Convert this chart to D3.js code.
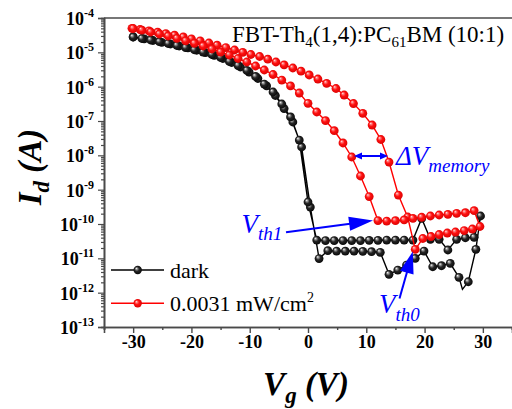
<!DOCTYPE html>
<html><head><meta charset="utf-8">
<script src="https://cdn.jsdelivr.net/npm/d3@7"></script>
<style>body{margin:0;background:#fff}svg{display:block}</style>
</head><body>
<svg id="c" width="512" height="409"></svg>
<script>
// ---- data (Vg in V, Id in A) ----
const darkFwdV = [-30,-28.1,-26.6,-25.1,-23.6,-22.1,-20.6,-19.1,-17.6,-16.1,-14.6,-13.1,-11.6,-10.1,-8.6,-7.1,-5.6,-4.1,-2.6,-1.1,0.4,1.9,3.4,4.9,6.4,7.9,9.4,10.9,12.4,13.9,15.4,16.9,18.4,19.9,21.4,22.9,24.4,25.9,26.5,27.5,28.8,29.6];
const darkFwdI = [2.80e-5,2.45e-5,2.21e-5,1.96e-5,1.75e-5,1.53e-5,1.34e-5,1.15e-5,9.75e-6,8.19e-6,6.61e-6,5.06e-6,3.74e-6,2.67e-6,1.73e-6,1.05e-6,5.53e-7,2.31e-7,9.35e-8,1.75e-8,3.12e-10,9.87e-12,1.67e-11,1.63e-11,1.63e-11,1.63e-11,1.60e-11,1.56e-11,1.50e-11,3.42e-12,4.56e-12,6.38e-12,1.00e-11,1.63e-11,5.69e-12,6.09e-12,7.16e-12,2.80e-12,1.25e-12,2.08e-12,1.83e-11,1.71e-10];
const darkLineOnlyV = [26.5];
const darkRevV = [28.5,27,25.5,24,22.5,21,19.5,18,16.5,15,13.5,12,10.5,9,7.5,6,4.5,3,1.5,0,-1.5,-3,-4.5,-6,-7.5,-9,-10.5,-12,-13.5,-15,-16.5,-18,-19.5,-21,-22.5,-24,-25.5,-27,-28.5,-30];
const darkRevI = [4.09e-11,3.98e-11,3.58e-11,1.75e-11,3.58e-11,3.58e-11,1.45e-10,3.41e-11,3.41e-11,3.41e-11,3.41e-11,3.35e-11,3.35e-11,3.30e-11,3.30e-11,3.30e-11,3.30e-11,3.30e-11,3.41e-11,4.37e-10,2.79e-8,1.31e-7,3.13e-7,6.99e-7,1.19e-6,1.98e-6,2.96e-6,4.13e-6,5.41e-6,7.07e-6,8.65e-6,1.02e-5,1.19e-5,1.38e-5,1.58e-5,1.81e-5,2.04e-5,2.29e-5,2.53e-5,2.80e-5];

const lightFwdV = [-30.2,-28.8,-27.3,-25.8,-24.4,-22.9,-21.4,-20.0,-18.5,-17.0,-15.6,-14.1,-12.6,-11.2,-9.8,-8.3,-6.9,-5.5,-4.1,-2.6,-1.2,0.2,1.7,3.2,4.8,6.2,7.8,9.4,11.0,12.5,13.9,15.5,17.1,18.4,19.7,21.1,22.5,23.9,25.3,26.8,28.2,29.5];
const lightFwdI = [5.01e-5,4.62e-5,4.24e-5,3.86e-5,3.51e-5,3.15e-5,2.81e-5,2.48e-5,2.17e-5,1.87e-5,1.61e-5,1.38e-5,1.17e-5,1.00e-5,8.65e-6,7.56e-6,6.31e-6,5.23e-6,4.33e-6,3.50e-6,2.82e-6,2.19e-6,1.67e-6,1.25e-6,8.84e-7,5.71e-7,3.23e-7,1.67e-7,7.64e-8,2.89e-8,6.38e-9,6.98e-10,1.60e-10,1.83e-11,3.78e-11,4.32e-11,4.94e-11,5.46e-11,5.84e-11,6.45e-11,7.14e-11,8.45e-11];
const lightRevV = [28.5,27,25.5,24,22.5,21,19.5,18,16.5,15,13.5,12,10.5,9,7.5,6,4.5,3,1.5,0,-1.5,-3,-4.5,-6,-7.5,-9,-10.5,-12,-13.5,-15,-16.5,-18,-19.5,-21,-22.5,-24,-25.5,-27,-28.5,-30];
const lightRevI = [2.44e-10,2.13e-10,2.05e-10,1.91e-10,1.83e-10,1.71e-10,1.57e-10,1.46e-10,1.31e-10,1.25e-10,1.22e-10,1.26e-10,6.31e-10,2.50e-9,8.94e-9,2.29e-8,5.21e-8,1.03e-7,1.83e-7,3.27e-7,6.53e-7,1.05e-6,1.56e-6,2.26e-6,3.06e-6,4.00e-6,5.23e-6,6.61e-6,8.36e-6,1.02e-5,1.25e-5,1.53e-5,1.83e-5,2.17e-5,2.56e-5,2.99e-5,3.42e-5,3.91e-5,4.41e-5,4.94e-5];

const xTicks = [-30,-20,-10,0,10,20,30];
const xMinorTicks = [-35,-25,-15,-5,5,15,25,35];
const yExponents = [-4,-5,-6,-7,-8,-9,-10,-11,-12,-13];
const seriesNames = ["dark","0.0031 mW/cm"];
const titleParts = ["FBT-Th","4","(1,4):PC","61","BM (10:1)"];

// ---- chart ----
const svg = d3.select("#c");
const serif = "'Liberation Serif','Times New Roman',serif";
const x = d3.scaleLinear().domain([-35,35]).range([104,512]);
const y = d3.scaleLog().domain([1e-13,1e-4]).range([327,18]);
const axisColor = "#4a4a4a";

const defs = svg.append("defs");
function grad(id, stops){
  const g = defs.append("radialGradient").attr("id",id)
    .attr("cx","0.5").attr("cy","0.5").attr("r","0.6").attr("fx","0.33").attr("fy","0.3");
  stops.forEach(s=>g.append("stop").attr("offset",s[0]).attr("stop-color",s[1]));
}
grad("gk",[[0,"#ffffff"],[0.18,"#9a9a9a"],[0.45,"#262626"],[1,"#000000"]]);
grad("gr",[[0,"#ffe8e8"],[0.18,"#ff7a7a"],[0.45,"#ff1010"],[1,"#d00000"]]);

// axes
const gx = svg.append("g").attr("transform","translate(0,327)");
gx.call(d3.axisBottom(x).tickValues(xTicks).tickSize(6).tickPadding(2).tickFormat(d=>String(d)));
gx.append("g").call(d3.axisBottom(x).tickValues(xMinorTicks).tickSize(3).tickFormat(""));
gx.selectAll("path.domain").attr("stroke",axisColor).attr("stroke-width",1.6);
gx.selectAll("line").attr("stroke",axisColor).attr("stroke-width",1.4);
gx.selectAll("text").attr("font-family",serif).attr("font-weight","bold").attr("font-size",18).attr("fill","#000");

const minorY = [];
for (let e=-13;e<-4;e++) for (let m=2;m<=9;m++) minorY.push(m*Math.pow(10,e));
const gy = svg.append("g").attr("transform","translate(104,0)");
gy.call(d3.axisLeft(y).tickValues(yExponents.map(e=>Math.pow(10,e))).tickSize(6).tickFormat(""));
gy.append("g").call(d3.axisLeft(y).tickValues(minorY).tickSize(3).tickFormat(""));
gy.selectAll("path.domain").attr("stroke",axisColor).attr("stroke-width",1.6);
gy.selectAll("line").attr("stroke",axisColor).attr("stroke-width",1.2);

svg.append("line").attr("x1",104).attr("x2",512).attr("y1",y(1e-4)).attr("y2",y(1e-4))
  .attr("stroke",axisColor).attr("stroke-width",1.6);

// y tick labels 10^n
yExponents.forEach(e=>{
  const t = svg.append("text").attr("x",94).attr("y",y(Math.pow(10,e))+7)
    .attr("text-anchor","end").attr("font-family",serif).attr("font-weight","bold").attr("font-size",18);
  t.append("tspan").text("10");
  t.append("tspan").attr("dy",-8).attr("font-size",12).text(String(e));
});

// axis titles
const xt = svg.append("text").attr("x",306).attr("y",395).attr("text-anchor","middle")
  .attr("font-family",serif).attr("font-weight","bold").attr("font-style","italic").attr("font-size",33);
xt.append("tspan").text("V");
xt.append("tspan").attr("font-size",23).attr("dy",8).text("g");
xt.append("tspan").attr("dy",-8).text(" (V)");

const yt = svg.append("text").attr("transform","translate(41,167) rotate(-90)").attr("text-anchor","middle")
  .attr("font-family",serif).attr("font-weight","bold").attr("font-style","italic").attr("font-size",33);
yt.append("tspan").text("I");
yt.append("tspan").attr("font-size",23).attr("dy",8).text("d");
yt.append("tspan").attr("dy",-8).text(" (A)");

// series
const line = d3.line().x(d=>x(d.v)).y(d=>y(d.i));
function series(fv,fi,rv,ri,color,gid,skip){
  const pts = fv.map((v,k)=>({v,i:fi[k]})).concat(rv.map((v,k)=>({v,i:ri[k]})));
  svg.append("path").datum(pts).attr("d",line).attr("fill","none").attr("stroke",color).attr("stroke-width",1.4);
  svg.append("g").selectAll("circle").data(pts.filter(p=>!(skip||[]).includes(p.v) || false)).join("circle")
    .attr("cx",d=>x(d.v)).attr("cy",d=>y(d.i)).attr("r",4.4).attr("fill",`url(#${gid})`);
}
series(darkFwdV,darkFwdI,darkRevV,darkRevI,"#000","gk",darkLineOnlyV);
series(lightFwdV,lightFwdI,lightRevV,lightRevI,"#ff0000","gr",[]);

// title
const tt = svg.append("text").attr("x",232).attr("y",41.5).attr("font-family",serif).attr("font-size",23);
tt.append("tspan").text(titleParts[0]);
tt.append("tspan").attr("font-size",15).attr("dy",5).text(titleParts[1]);
tt.append("tspan").attr("dy",-5).text(titleParts[2]);
tt.append("tspan").attr("font-size",15).attr("dy",5).text(titleParts[3]);
tt.append("tspan").attr("dy",-5).text(titleParts[4]);

// legend
[[270,"#000","gk"],[303.3,"#ff0000","gr"]].forEach((r,k)=>{
  svg.append("line").attr("x1",111).attr("x2",164).attr("y1",r[0]).attr("y2",r[0]).attr("stroke",r[1]).attr("stroke-width",1.6);
  svg.append("circle").attr("cx",137.7).attr("cy",r[0]).attr("r",4.2).attr("fill",`url(#${r[2]})`);
  const t = svg.append("text").attr("x",170).attr("y",r[0]+8).attr("font-family",serif).attr("font-size",22);
  t.append("tspan").text(seriesNames[k]);
  if (k===1) t.append("tspan").attr("font-size",14).attr("dy",-9).text("2");
});

// annotations
const blue = "#0000ff";
function arrow(x1,y1,x2,y2,hl,hw,lw){
  const dx=x2-x1, dy=y2-y1, L=Math.hypot(dx,dy), ux=dx/L, uy=dy/L;
  const bx=x2-ux*hl, by=y2-uy*hl;
  svg.append("line").attr("x1",x1).attr("y1",y1).attr("x2",bx+ux*1).attr("y2",by+uy*1)
    .attr("stroke",blue).attr("stroke-width",lw);
  svg.append("path").attr("d",`M${x2},${y2}L${bx-uy*hw},${by+ux*hw}L${bx+uy*hw},${by-ux*hw}Z`).attr("fill",blue);
}
arrow(286,232.3,373,220.6,24,7,2);
arrow(399.5,298.5,412.8,251.5,22,7,2);
// double arrow for delta V
svg.append("line").attr("x1",360).attr("x2",382).attr("y1",156).attr("y2",156).attr("stroke",blue).attr("stroke-width",2);
svg.append("path").attr("d","M354,156L362,152.5L362,159.5Z").attr("fill",blue);
svg.append("path").attr("d","M388,156L380,152.5L380,159.5Z").attr("fill",blue);

function label(xp,yp,main,sub,subDy,pre){
  const t = svg.append("text").attr("x",xp).attr("y",yp).attr("font-family",serif)
    .attr("font-style","italic").attr("font-size",27).attr("fill",blue);
  t.append("tspan").text(main);
  t.append("tspan").attr("font-size",19).attr("dy",subDy).text(sub);
}
label(396,165,"\u0394V","memory",7);
label(241.5,233,"V","th1",7);
label(379,313,"V","th0",8);
</script>
</body></html>
